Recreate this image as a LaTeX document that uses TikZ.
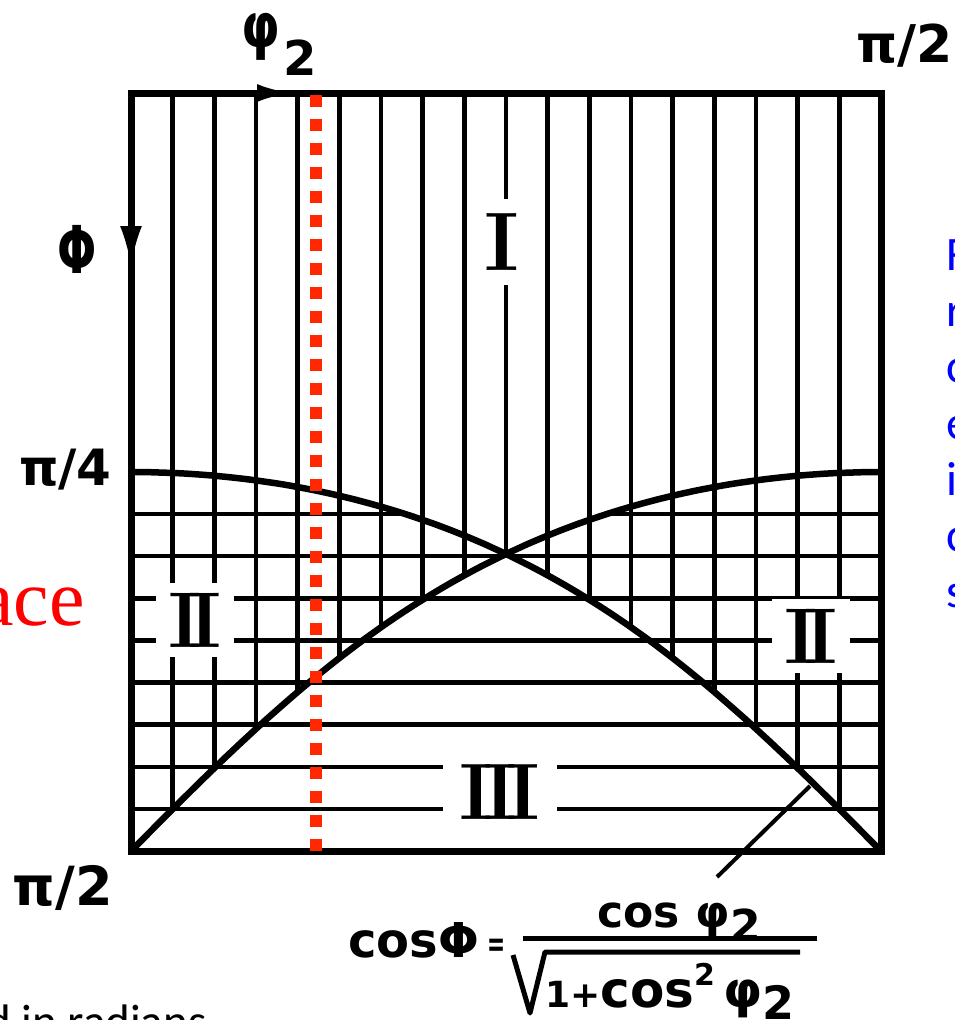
\documentclass[tikz,border=0pt]{standalone}
\usepackage{fontspec}
\usetikzlibrary{arrows.meta}
\newfontfamily\hand{DejaVu Sans}
\newfontfamily\carl{Carlito}
\newfontfamily\serifred{Liberation Serif}
\definecolor{redd}{RGB}{255,40,0}
\definecolor{redt}{RGB}{255,0,0}
\definecolor{bluet}{RGB}{0,0,255}
\tikzset{
  gridln/.style={line width=4.5pt},
  curveln/.style={line width=6.5pt, line join=round},
  frameln/.style={line width=7pt, line join=miter},
  roman/.style={fill=white, inner xsep=13pt, inner ysep=10pt},
  handlab/.style={inner sep=0pt},
  bluetxt/.style={text=bluet, font=\carl\fontsize{48}{56}\selectfont, inner sep=0pt, anchor=base west},
  reddot/.style={draw=redd, line width=12pt, dash pattern=on 12pt off 12pt},
  leader/.style={line width=4pt},
}
\begin{document}
\begin{tikzpicture}[x=1pt,y=-1pt]
\useasboundingbox (0,0) rectangle (955,1020);

% vertical lines (regions I and II)
\foreach \i in {1,...,17}{
  \pgfmathsetmacro{\u}{max(\i/18,1-\i/18)}
  \pgfmathsetmacro{\yend}{93+8.42222*acos(cos(90*\u)/sqrt(1+cos(90*\u)^2))}
  \pgfmathsetmacro{\xx}{131+750*\i/18}
  \draw[gridln] (\xx,93) -- (\xx,\yend);
}
% horizontal lines (regions II and III)
\pgfmathsetmacro{\us}{acos(cot(50))/90*750}
\pgfmathsetmacro{\yh}{93+8.42222*50}
\draw[gridln] (131,\yh) -- ({131+\us},\yh);
\draw[gridln] ({881-\us},\yh) -- (881,\yh);
\foreach \j in {2,...,8}{
  \pgfmathsetmacro{\yy}{93+8.42222*(45+5*\j)}
  \draw[gridln] (131,\yy) -- (881,\yy);
}
% boundary curves
\draw[curveln] plot[domain=0:1,samples=90,smooth] ({131+750*\x},{93+8.42222*acos(cos(90*\x)/sqrt(1+cos(90*\x)^2))});
\draw[curveln] plot[domain=0:1,samples=90,smooth] ({881-750*\x},{93+8.42222*acos(cos(90*\x)/sqrt(1+cos(90*\x)^2))});

% frame
\draw[frameln] (131,93) rectangle (881,851);
% axis arrows
\draw[line width=4pt,-{Latex[length=40pt,width=22pt]}] (131,150) -- (131,266);
\draw[line width=4pt,-{Latex[length=34pt,width=18pt]}] (200,93) -- (291,93);

% region labels
\node[roman, font=\fontsize{83}{90}\selectfont\bfseries, inner ysep=15pt] (rI) at (502,242) {I};
\node[roman, font=\fontsize{79}{90}\selectfont\bfseries] (rIIa) at (195,620) {I\kern-14pt I};
\node[roman, font=\fontsize{79}{90}\selectfont\bfseries] (rIIb) at (811,636) {I\kern-14pt I};
\node[roman, font=\fontsize{80}{90}\selectfont\bfseries, inner xsep=17pt] (rIII) at (500,792) {I\kern-10pt I\kern-10pt I};

% red dotted line
\draw[reddot] (316,95) -- (316,851);

% axis labels
\node[handlab, anchor=base west, font=\hand\bfseries\fontsize{48}{56}\selectfont] (phitwo) at (241,47)
  {\scalebox{0.8}[1]{\fontsize{62}{66}\selectfont φ}\kern3pt\raisebox{-28pt}{2}};
\node[handlab, anchor=base east, font=\hand\bfseries\fontsize{52}{60}\selectfont] (pitop) at (953,62) {π/2};
\node[handlab, font=\hand\bfseries\fontsize{66}{70}\selectfont] (Phi) at (77,249) {\scalebox{0.7}[1]{Φ}};
\node[handlab, anchor=base east, font=\hand\bfseries\fontsize{50}{60}\selectfont] (pifour) at (112,485) {π/4};
\node[handlab, anchor=base east, font=\hand\bfseries\fontsize{54}{60}\selectfont] (pibot) at (113,905) {π/2};

% formula
\node[handlab, anchor=base west, font=\hand\bfseries\fontsize{48}{56}\selectfont] (lhs) at (348,957) {cosΦ};
\node[handlab, font=\hand\bfseries\fontsize{36}{40}\selectfont] (eq) at (497,948) {\scalebox{0.6}[1]{=}};
\node[handlab, anchor=base west, font=\hand\bfseries\fontsize{44}{52}\selectfont] (num) at (597,927) {cos\kern16pt φ\raisebox{-14pt}{2}};
\draw[line width=5pt] (523,938) -- (817,938);
\draw[line width=5pt, line join=round] (513,955) -- (530,1013) -- (545,952) -- (800,952);
\node[handlab, anchor=base west, font=\hand\bfseries\fontsize{50}{56}\selectfont] (den) at (545,1007)
  {{\fontsize{36}{40}\selectfont 1+}cos\raisebox{22pt}{\fontsize{30}{34}\selectfont 2}\kern8pt φ\raisebox{-12pt}{\fontsize{46}{50}\selectfont 2}};
\coordinate (ldA) at (717,877);
\coordinate (ldB) at (810,786);
\draw[leader] (ldA) -- (ldB);

% clipped captions around the figure
\node[anchor=base east, inner sep=0pt, text=redt, font=\serifred\fontsize{80}{90}\selectfont] (ace) at (85,625) {ace};
\node[anchor=base west, inner sep=0pt, font=\carl\fontsize{47}{52}\selectfont] (rad) at (-14,1037) {d in radians};
\node[bluetxt] (b1) at (946,270) {F};
\node[bluetxt] (b2) at (946,326) {r};
\node[bluetxt] (b3) at (946,382) {c};
\node[bluetxt] (b4) at (946,439) {e};
\node[bluetxt] (b5) at (946,495) {i};
\node[bluetxt] (b6) at (946,551) {c};
\node[bluetxt] (b7) at (946,607) {s};
\end{tikzpicture}
\end{document}
